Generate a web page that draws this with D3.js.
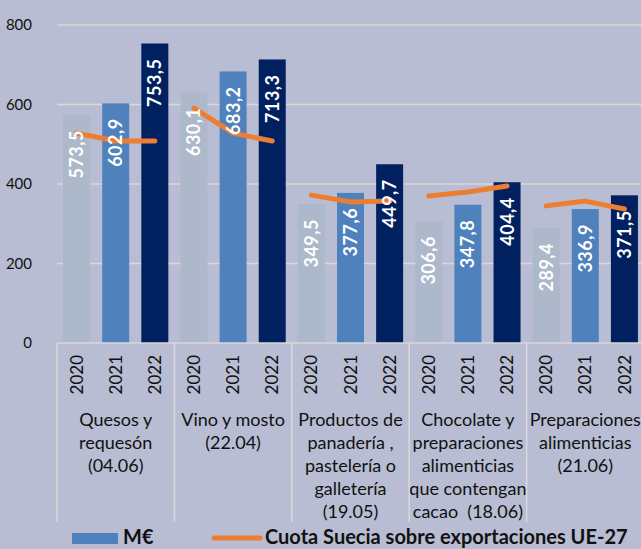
<!DOCTYPE html>
<html>
<head>
<meta charset="utf-8">
<script src="https://cdn.jsdelivr.net/npm/d3@7"></script>
<style>
  html, body { margin: 0; padding: 0; background: #b8bdd3; }
  svg { display: block; font-family: Lato, "Open Sans", sans-serif; }
</style>
</head>
<body>
<svg id="chart"></svg>
<script>
// categories (label lines as they are wrapped in the chart)
const categories = [
    ['Quesos y', 'requesón', '(04.06)'],
    ['Vino y mosto', '(22.04)'],
    ['Productos de', 'panadería ,', 'pastelería o', 'galletería', '(19.05)'],
    ['Chocolate y', 'preparaciones', 'alimenticias', 'que contengan', 'cacao  (18.06)'],
    ['Preparaciones', 'alimenticias', '(21.06)']
];
const years = ['2020', '2021', '2022'];

// M€ per category, one value per year
const values = [
    [573.5, 602.9, 753.5],
    [630.1, 683.2, 713.3],
    [349.5, 377.6, 449.7],
    [306.6, 347.8, 404.4],
    [289.4, 336.9, 371.5]
];

// Cuota Suecia sobre exportaciones UE-27 (%), secondary axis not shown
const share = [
    [5.28, 5.08, 5.08],
    [5.91, 5.28, 5.08],
    [3.72, 3.55, 3.57],
    [3.70, 3.80, 3.95],
    [3.45, 3.57, 3.37]
];

const yTicks = [0, 200, 400, 600, 800];

const width = 641, height = 549;
const plot = { left: 57, right: 644, top: 25, bottom: 343 };
const colors = ['#adb8cb', '#4f81bd', '#002060'];
const gridColor = '#d9d9d9';

const svg = d3.select('svg#chart')
    .attr('width', width)
    .attr('height', height);

svg.append('rect')
    .attr('width', width)
    .attr('height', height)
    .attr('fill', '#b8bdd3');

// scales
const x0 = d3.scaleBand()
    .domain(d3.range(categories.length))
    .range([plot.left, plot.right])
    .padding(0);

const x1 = d3.scaleBand()
    .domain(years)
    .range([0, x0.bandwidth()])
    .paddingInner(0.31)
    .paddingOuter(0.155);

const y = d3.scaleLinear()
    .domain([0, 800])
    .range([plot.bottom, plot.top]);

const y2 = d3.scaleLinear()
    .domain([0, 8])
    .range([plot.bottom, plot.top]);

// grid lines
svg.append('g')
    .selectAll('line')
    .data(yTicks.filter(d => d > 0))
    .enter()
    .append('line')
    .attr('x1', plot.left)
    .attr('x2', plot.right)
    .attr('y1', d => y(d))
    .attr('y2', d => y(d))
    .attr('stroke', gridColor)
    .attr('stroke-width', 1.5);

// y axis labels
const yAxis = d3.axisLeft(y)
    .tickValues(yTicks)
    .tickSize(0)
    .tickPadding(0);

const yAxisG = svg.append('g')
    .attr('transform', 'translate(32,0)')
    .call(yAxis);
yAxisG.select('.domain').remove();
yAxisG.selectAll('text')
    .attr('fill', '#111')
    .style('font-size', '15px')
    .style('font-family', 'Lato, sans-serif');

// bars
const groups = svg.append('g')
    .selectAll('g')
    .data(values)
    .enter()
    .append('g')
    .attr('transform', (d, i) => `translate(${x0(i)},0)`);

groups.selectAll('rect')
    .data(d => d.map((v, j) => ({ year: years[j], v: v, j: j })))
    .enter()
    .append('rect')
    .attr('x', d => x1(d.year))
    .attr('y', d => y(d.v))
    .attr('width', x1.bandwidth())
    .attr('height', d => y(0) - y(d.v))
    .attr('fill', d => colors[d.j]);

// share line, one segment per category
const line = d3.line()
    .x((d, j) => x1(years[j]) + x1.bandwidth() / 2)
    .y(d => y2(d));

groups.append('path')
    .attr('d', (d, i) => line(share[i]))
    .attr('fill', 'none')
    .attr('stroke', '#ed7d31')
    .attr('stroke-width', 5)
    .attr('stroke-linecap', 'round')
    .attr('stroke-linejoin', 'round');

// value labels inside the bars
groups.selectAll('text.val')
    .data(d => d.map((v, j) => ({ year: years[j], v: v })))
    .enter()
    .append('text')
    .attr('class', 'val')
    .attr('transform', d => `translate(${x1(d.year) + x1.bandwidth() / 2},${y(d.v) + 15}) rotate(-90)`)
    .attr('dy', '0.36em')
    .attr('text-anchor', 'end')
    .attr('fill', '#fff')
    .style('font-weight', 'bold')
    .style('font-size', '18px')
    .style('letter-spacing', '0.5px')
    .text(d => d.v.toFixed(1).replace('.', ','));

// x axis line and group separators
svg.append('line')
    .attr('x1', plot.left)
    .attr('x2', plot.right)
    .attr('y1', y(0))
    .attr('y2', y(0))
    .attr('stroke', gridColor)
    .attr('stroke-width', 1.5);

svg.append('g')
    .selectAll('line')
    .data(d3.range(categories.length + 1))
    .enter()
    .append('line')
    .attr('x1', i => plot.left + i * x0.bandwidth())
    .attr('x2', i => plot.left + i * x0.bandwidth())
    .attr('y1', y(0))
    .attr('y2', 522)
    .attr('stroke', gridColor)
    .attr('stroke-width', 1.5);

// year labels
groups.selectAll('text.year')
    .data(years)
    .enter()
    .append('text')
    .attr('class', 'year')
    .attr('transform', d => `translate(${x1(d) + x1.bandwidth() / 2},355) rotate(-90)`)
    .attr('dy', '0.36em')
    .attr('text-anchor', 'end')
    .attr('fill', '#111')
    .style('font-size', '17px')
    .text(d => d);

// category labels
groups.append('text')
    .attr('x', x0.bandwidth() / 2)
    .attr('text-anchor', 'middle')
    .attr('fill', '#111')
    .style('font-size', '18px')
    .selectAll('tspan')
    .data((d, i) => categories[i])
    .enter()
    .append('tspan')
    .attr('x', x0.bandwidth() / 2)
    .attr('y', (d, k) => 426 + k * 23)
    .style('white-space', 'pre')
    .text(d => d);

// legend
const legend = svg.append('g');
legend.append('rect')
    .attr('x', 72)
    .attr('y', 533)
    .attr('width', 46)
    .attr('height', 11)
    .attr('fill', colors[1]);
legend.append('text')
    .attr('x', 123)
    .attr('y', 544)
    .attr('fill', '#111')
    .style('font-weight', 'bold')
    .style('font-size', '20px')
    .text('M€');
legend.append('line')
    .attr('x1', 214)
    .attr('x2', 260)
    .attr('y1', 538)
    .attr('y2', 538)
    .attr('stroke', '#ed7d31')
    .attr('stroke-width', 5)
    .attr('stroke-linecap', 'round');
legend.append('text')
    .attr('x', 265)
    .attr('y', 544)
    .attr('fill', '#111')
    .style('font-weight', 'bold')
    .style('font-size', '20px')
    .text('Cuota Suecia sobre exportaciones UE-27');
</script>
</body>
</html>
